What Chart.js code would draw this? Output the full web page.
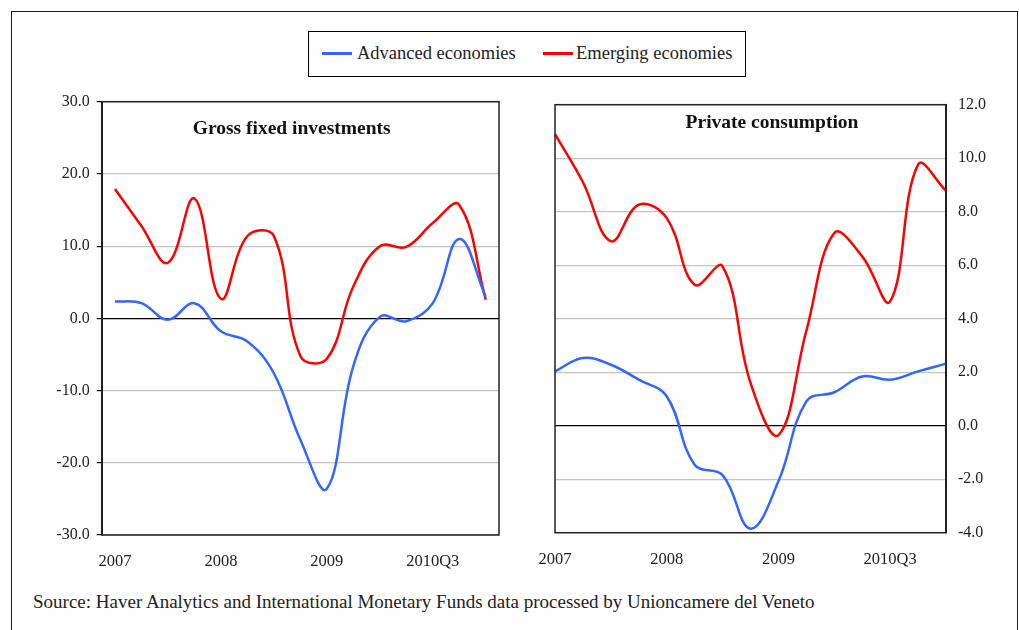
<!DOCTYPE html>
<html>
<head>
<meta charset="utf-8">
<script src="https://cdn.jsdelivr.net/npm/chart.js@4"></script>
<style>
    body { margin: 0; width: 1019px; height: 630px; overflow: hidden; background: #fff; font-family: 'Liberation Serif', serif; }
    #frame { position: absolute; left: 11px; top: 11px; width: 1005px; height: 700px; border: 1.5px solid #222; }
    #legend { position: absolute; left: 308px; top: 31px; width: 436px; height: 44px; border: 1px solid #000; }
    .swatch { position: absolute; top: 20px; width: 30px; height: 3px; }
    .label { position: absolute; top: 11px; font-size: 18.5px; line-height: 20px; color: #222; white-space: nowrap; }
    #source { position: absolute; left: 33px; top: 592px; font-size: 19px; line-height: 20px; color: #222; white-space: nowrap; }
    .panel { position: absolute; }
</style>
</head>
<body>
<div id="frame"></div>
<div id="legend">
    <div class="swatch" style="left: 13px; background: #3366ff;"></div>
    <div class="label" style="left: 48px;">Advanced economies</div>
    <div class="swatch" style="left: 234px; background: #ff0000;"></div>
    <div class="label" style="left: 267px;">Emerging economies</div>
</div>
<div class="panel" style="left: 40px; top: 90px; width: 470px; height: 490px;"><canvas id="graficoInversiones"></canvas></div>
<div class="panel" style="left: 520px; top: 90px; width: 499px; height: 490px;"><canvas id="graficoConsumo"></canvas></div>
<div id="source">Source: Haver Analytics and International Monetary Funds data processed by Unioncamere del Veneto</div>

<script>
// Quarterly data 2007Q1 - 2010Q3
const xTickLabels = ['2007', '', '', '', '2008', '', '', '', '2009', '', '', '', '2010Q3', '', ''];

// Gross fixed investments (%)
const gfiAdvanced = [2.35, 2.1, -0.2, 2.1, -1.8, -3.2, -7.6, -16.8, -23.6, -6.6, 0.2, -0.4, 2.1, 11.0, 3.0];
const gfiEmerging = [17.9, 12.8, 7.7, 16.6, 2.7, 11.4, 11.4, -5.2, -5.6, 4.4, 10.0, 9.9, 13.2, 15.7, 2.6];

// Private consumption (%)
const pcAdvanced = [2.03, 2.53, 2.28, 1.72, 1.10, -1.46, -1.85, -3.85, -2.08, 0.91, 1.25, 1.84, 1.72, 2.03, 2.32];
const pcEmerging = [10.9, 9.1, 6.9, 8.26, 7.76, 5.27, 5.96, 1.6, -0.35, 3.55, 7.2, 6.33, 4.65, 9.76, 8.78];

const gfiTicks = { min: -30, max: 30, step: 10 };
const pcTicks = { min: -4, max: 12, step: 2 };

const FONT = "'Liberation Serif', serif";

// Box round the plot area and title inside it
const panelPlugin = {
    id: 'panelBox',
    afterDraw(chart, args, opts) {
        const { ctx, chartArea } = chart;
        ctx.save();
        ctx.strokeStyle = '#222';
        ctx.lineWidth = 1.5;
        ctx.strokeRect(chartArea.left, chartArea.top, chartArea.width, chartArea.height);
        ctx.fillStyle = '#111';
        ctx.font = 'bold 19.5px ' + FONT;
        ctx.textAlign = 'center';
        ctx.textBaseline = 'middle';
        ctx.fillText(opts.text, chartArea.left + opts.dx, chartArea.top + opts.dy);
        ctx.restore();
    }
};

function buildDatasets(advanced, emerging) {
    return [{
        label: 'Advanced economies',
        data: advanced,
        borderColor: '#3366ff',
        borderWidth: 2.5,
        pointRadius: 0,
        tension: 0.4,
        fill: false
    }, {
        label: 'Emerging economies',
        data: emerging,
        borderColor: '#ff0000',
        borderWidth: 2.5,
        pointRadius: 0,
        tension: 0.4,
        fill: false
    }];
}

function gridColor(context) {
    return context.tick && context.tick.value === 0 ? '#000' : '#c4c4c4';
}

// fixed sizes so the plot area lands where it should
function clearPadding(scale) {
    scale.paddingTop = 0;
    scale.paddingBottom = 0;
    scale.paddingLeft = 0;
    scale.paddingRight = 0;
}

function createPanel(canvasId, advanced, emerging, range, cfg) {
    const ctx = document.getElementById(canvasId);
    return new Chart(ctx, {
        type: 'line',
        data: { labels: xTickLabels, datasets: buildDatasets(advanced, emerging) },
        plugins: [panelPlugin],
        options: {
            responsive: true,
            maintainAspectRatio: false,
            animation: false,
            layout: { padding: cfg.padding },
            plugins: {
                legend: { display: false },
                tooltip: { enabled: false },
                panelBox: cfg.title
            },
            scales: {
                x: {
                    offset: cfg.offset,
                    grid: { display: false, drawTicks: false },
                    border: { display: false },
                    ticks: {
                        autoSkip: false,
                        maxRotation: 0,
                        padding: 17,
                        color: '#222',
                        font: { family: FONT, size: 16.5 }
                    },
                    afterFit: function(scale) {
                        scale.height = cfg.xHeight;
                        clearPadding(scale);
                    }
                },
                y: {
                    position: cfg.yPosition,
                    min: range.min,
                    max: range.max,
                    grid: {
                        color: gridColor,
                        lineWidth: 1.2,
                        drawTicks: cfg.drawTicks,
                        tickLength: 5,
                        tickColor: '#000'
                    },
                    border: { display: true, color: '#222', width: 2 },
                    ticks: {
                        stepSize: range.step,
                        padding: cfg.tickPadding,
                        color: '#222',
                        font: { family: FONT, size: 16 },
                        callback: function(value) { return value.toFixed(1); }
                    },
                    afterFit: function(scale) {
                        scale.width = cfg.yWidth;
                        clearPadding(scale);
                    }
                }
            }
        }
    });
}

document.addEventListener('DOMContentLoaded', function() {
    createPanel('graficoInversiones', gfiAdvanced, gfiEmerging, gfiTicks, {
        padding: { top: 11.7, right: 11, bottom: 0, left: 0 },
        offset: true,
        xHeight: 45,
        yPosition: 'left',
        yWidth: 61.7,
        drawTicks: true,
        tickPadding: 7,
        title: { text: 'Gross fixed investments', dx: 190, dy: 27 }
    });

    createPanel('graficoConsumo', pcAdvanced, pcEmerging, pcTicks, {
        padding: { top: 14.7, right: 0, bottom: 0, left: 35 },
        offset: false,
        xHeight: 47.3,
        yPosition: 'right',
        yWidth: 73,
        drawTicks: false,
        tickPadding: 12,
        title: { text: 'Private consumption', dx: 217, dy: 18 }
    });
});
</script>
</body>
</html>
